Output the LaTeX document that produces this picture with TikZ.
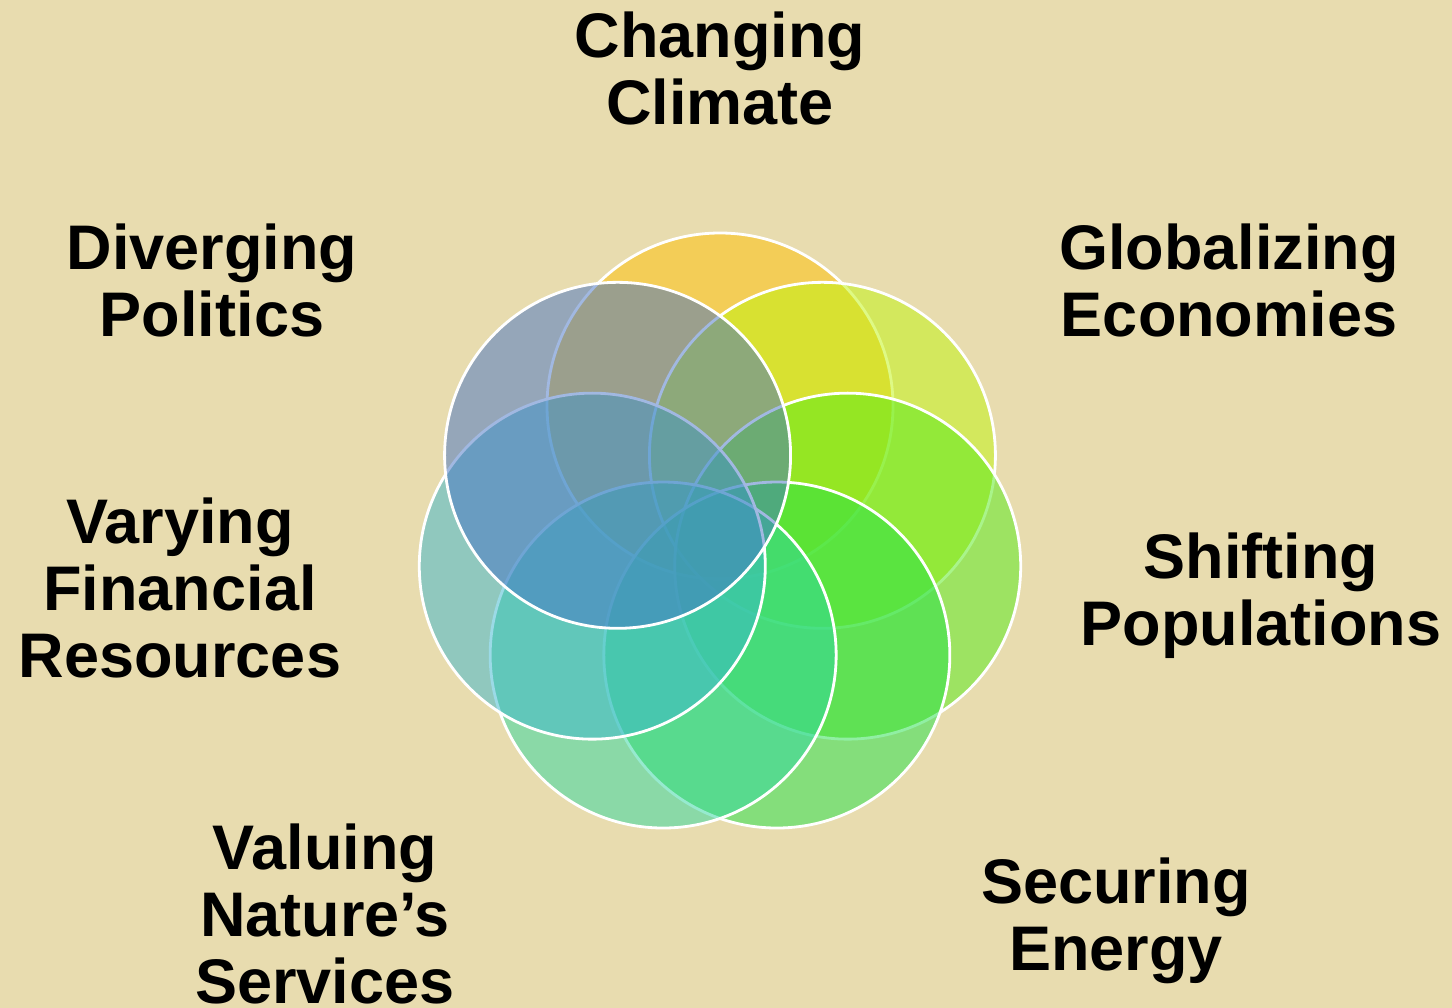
\documentclass[tikz,border=0pt]{standalone}
\usepackage{fontspec}
\setmainfont{Liberation Sans}
\definecolor{bgtan}{RGB}{232,220,175}
\definecolor{cA}{RGB}{255,192,0}
\definecolor{cB}{RGB}{191,245,12}
\definecolor{cC}{RGB}{84,235,23}
\definecolor{cD}{RGB}{34,225,72}
\definecolor{cE}{RGB}{46,215,161}
\definecolor{cF}{RGB}{57,182,206}
\definecolor{cG}{RGB}{68,114,196}
\begin{document}
\begin{tikzpicture}[x=1pt,y=-1pt,
  venn/.style={circle, draw=white, line width=2.8pt, fill opacity=0.5, minimum size=346pt, inner sep=0pt},
  lab/.style={anchor=base, inner sep=0pt, font=\fontsize{63}{67}\selectfont\bfseries}]
\fill[bgtan] (0,0) rectangle (1452,1008);
\useasboundingbox (0,0) rectangle (1452,1008);
\coordinate (ring) at (720,537);
\foreach \k/\col in {0/cA,1/cB,2/cC,3/cD,4/cE,5/cF,6/cG}{
  \pgfmathsetmacro{\ang}{\k*360/7}
  \node[venn, fill=\col] (v\k) at ({720+131*sin(\ang)},{537-131*cos(\ang)}) {};
}
\node[lab] (climate) at (720,58) {\begin{tabular}[t]{@{}c@{}}Changing\\Climate\end{tabular}};
\node[lab] (global) at (1229,270) {\begin{tabular}[t]{@{}c@{}}Globalizing\\Economies\end{tabular}};
\node[lab] (shift) at (1261,578) {\begin{tabular}[t]{@{}c@{}}Shifting\\Populations\end{tabular}};
\node[lab] (energy) at (1116,903) {\begin{tabular}[t]{@{}c@{}}Securing\\Energy\end{tabular}};
\node[lab] (nature) at (325,869) {\begin{tabular}[t]{@{}c@{}}Valuing\\Nature’s\\Services\end{tabular}};
\node[lab] (finance) at (180,543) {\begin{tabular}[t]{@{}c@{}}Varying\\Financial\\Resources\end{tabular}};
\node[lab] (politics) at (212,270) {\begin{tabular}[t]{@{}c@{}}Diverging\\Politics\end{tabular}};
\end{tikzpicture}
\end{document}
